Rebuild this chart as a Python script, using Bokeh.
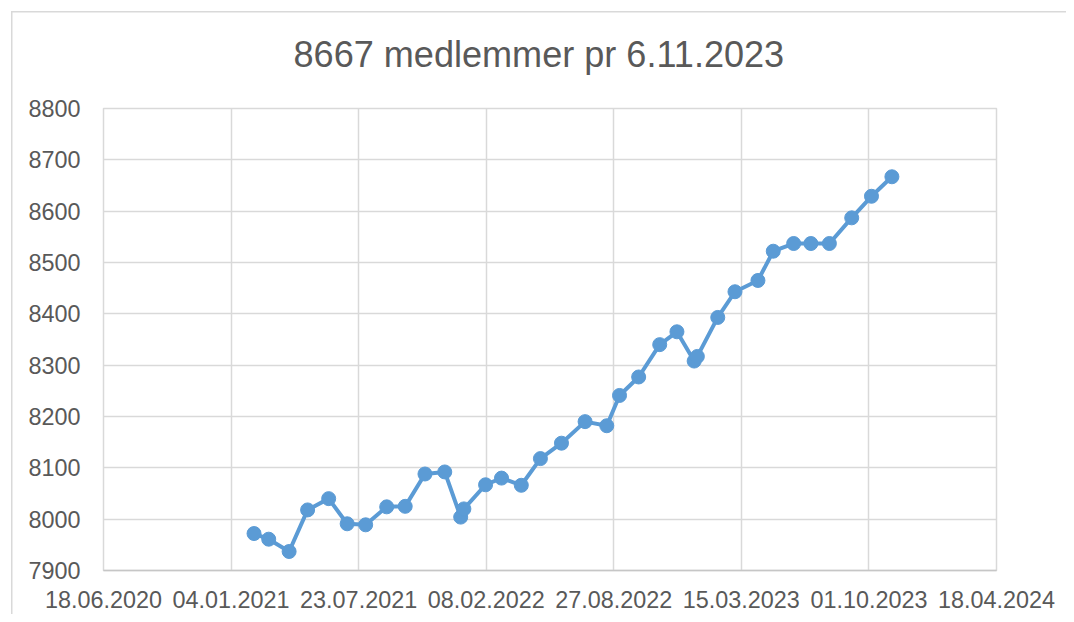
import pandas as pd
from bokeh.plotting import figure
from bokeh.models import (ColumnDataSource, Range1d, FixedTicker, DatetimeTickFormatter, Title)
from bokeh.embed import file_html
from bokeh.resources import INLINE

# ---- data ----
dates = ["2021-02-09", "2021-03-04", "2021-04-05", "2021-05-04", "2021-06-06", "2021-07-05",
         "2021-08-03", "2021-09-05", "2021-10-04", "2021-11-04", "2021-12-05", "2021-12-30",
         "2022-01-04", "2022-02-07", "2022-03-04", "2022-04-04", "2022-05-04", "2022-06-06",
         "2022-07-13", "2022-08-16", "2022-09-05", "2022-10-05", "2022-11-07", "2022-12-04",
         "2022-12-31", "2023-01-05", "2023-02-06", "2023-03-05", "2023-04-10", "2023-05-04",
         "2023-06-05", "2023-07-02", "2023-07-31", "2023-09-04", "2023-10-05", "2023-11-06"]
members = [7972, 7961, 7937, 8018, 8040, 7991, 7989, 8024, 8025, 8088, 8092, 8004,
           8020, 8067, 8080, 8066, 8118, 8148, 8190, 8182, 8241, 8277, 8340, 8365,
           8308, 8317, 8393, 8443, 8465, 8522, 8537, 8537, 8537, 8587, 8629, 8667]
x_tick_labels = ["18.06.2020", "04.01.2021", "23.07.2021", "08.02.2022",
                 "27.08.2022", "15.03.2023", "01.10.2023", "18.04.2024"]
y_ticks = [7900, 8000, 8100, 8200, 8300, 8400, 8500, 8600, 8700, 8800]
title_text = "8667 medlemmer pr 6.11.2023"

# ---- build ----
TEXT = "#595959"
BLUE = "#5B9BD5"
GRID = "#d9d9d9"
FONT = "Liberation Sans"

def to_ms(ts):
    return (ts - pd.Timestamp("1970-01-01")) // pd.Timedelta("1ms")

x_dates = pd.to_datetime(dates)
tick_ts = [pd.to_datetime(s, format="%d.%m.%Y") for s in x_tick_labels]
tick_ms = [to_ms(t) for t in tick_ts]

src = ColumnDataSource(dict(x=x_dates, y=members))

p = figure(width=1066, height=614, x_axis_type="datetime",
           output_backend="svg", toolbar_location=None,
           x_range=Range1d(tick_ts[0], tick_ts[-1]),
           y_range=Range1d(y_ticks[0], y_ticks[-1]),
           min_border_left=103, min_border_right=70,
           min_border_top=108, min_border_bottom=44)
# light outer chart-area frame (left and top edges visible)
p.styles = {
    "background-color": "white",
    "background-image": f"linear-gradient({GRID},{GRID}), linear-gradient({GRID},{GRID})",
    "background-size": "1.5px 100%, 100% 1.5px",
    "background-position": "11px 11px, 11px 11px",
    "background-repeat": "no-repeat",
}
p.title = None
p.add_layout(Title(text=title_text, align="left", vertical_align="top", text_font=FONT,
                   text_font_size="36.1px", text_font_style="normal",
                   text_color=TEXT, standoff=63, offset=190), "above")

p.outline_line_color = GRID
p.outline_line_width = 1.5
p.background_fill_color = "white"
p.border_fill_color = None

xa = p.below[0]
ya = p.left[0]
xa.ticker = FixedTicker(ticks=tick_ms)
fmt = "%d.%m.%Y"
xa.formatter = DatetimeTickFormatter(milliseconds=fmt, seconds=fmt, minsec=fmt,
                                     minutes=fmt, hourmin=fmt, hours=fmt, days=fmt,
                                     months=fmt, years=fmt)
ya.ticker = FixedTicker(ticks=y_ticks)

for ax in (xa, ya):
    ax.major_tick_line_color = None
    ax.minor_tick_line_color = None
    ax.major_label_text_font = FONT
    ax.major_label_text_font_size = "23.4px"
    ax.major_label_text_color = TEXT

xa.axis_line_color = "#c6c6c6"
xa.axis_line_width = 1.5
xa.major_label_standoff = 14
ya.axis_line_color = None
ya.major_label_standoff = 17

p.xgrid.ticker = FixedTicker(ticks=tick_ms)
p.ygrid.ticker = FixedTicker(ticks=y_ticks)
p.grid.grid_line_color = GRID
p.grid.grid_line_width = 1.5

p.line("x", "y", source=src, line_color=BLUE, line_width=4)
p.scatter("x", "y", source=src, size=14, fill_color=BLUE, line_color=BLUE)

open("out.html", "w").write(file_html(p, INLINE))
